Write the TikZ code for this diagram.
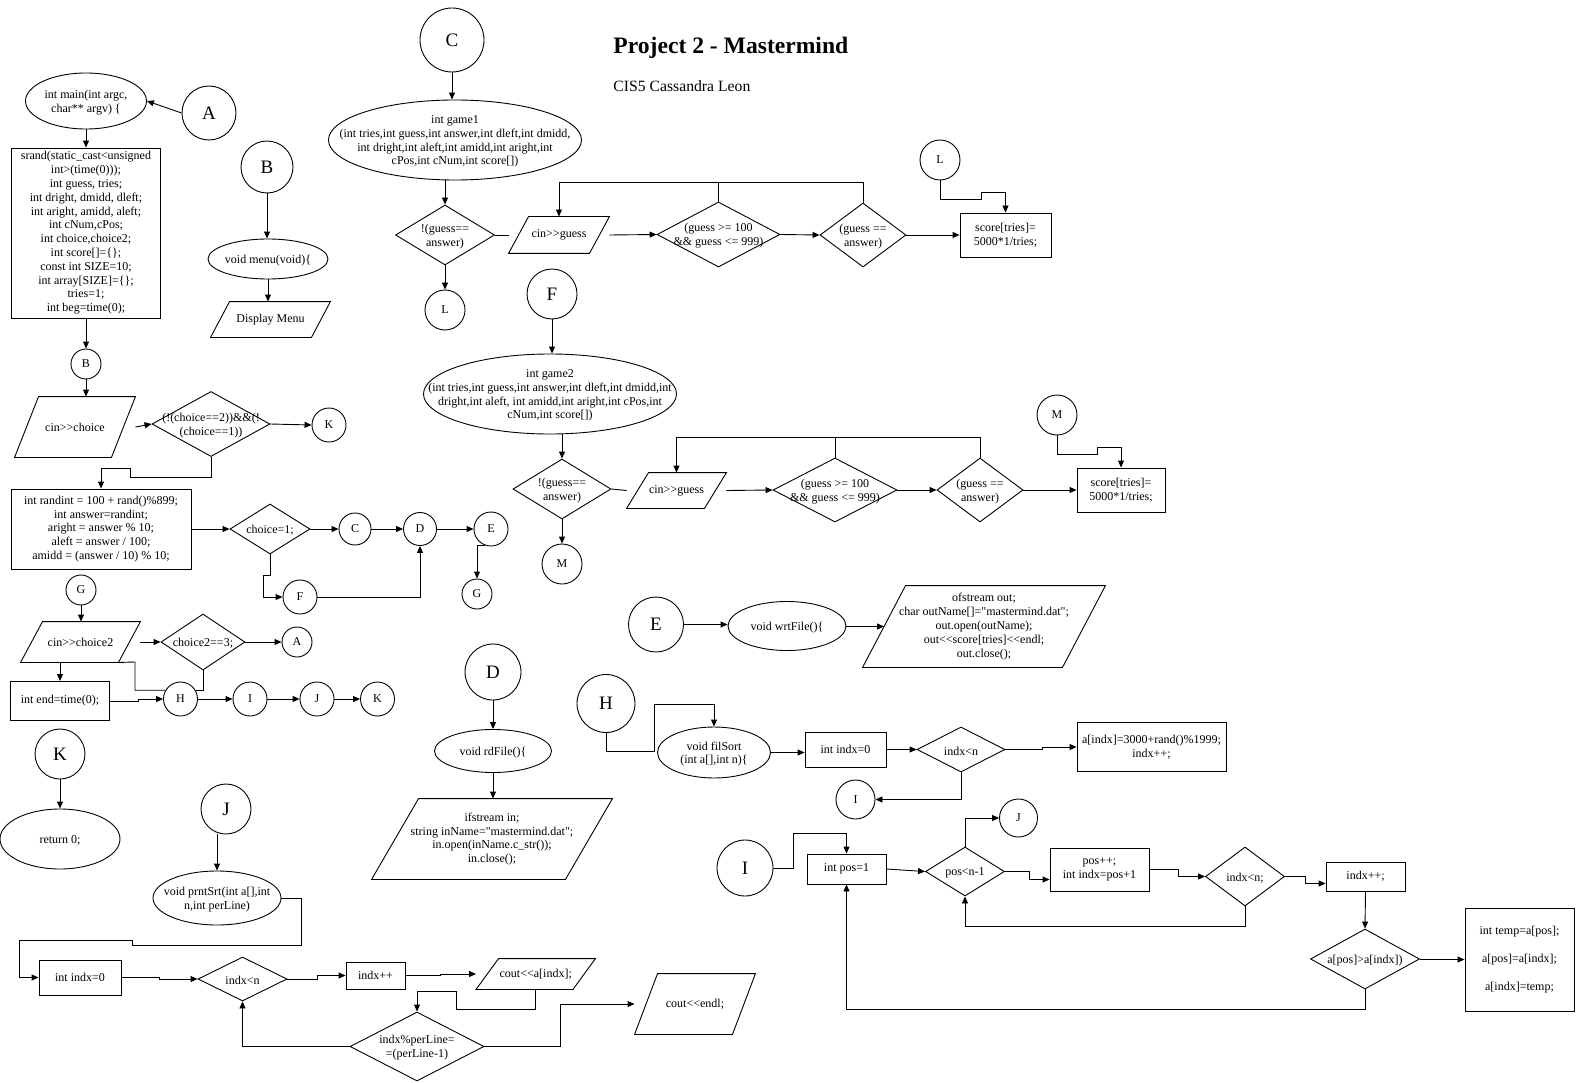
\documentclass[tikz,border=0pt]{standalone}
\usepackage{fontspec}
\setmainfont{Liberation Serif}[Ligatures=TeXOff]
\usetikzlibrary{shapes.geometric,arrows.meta}
\newcommand\fs{\fontsize{12}{13.8}\selectfont}
\newcommand\bigfs{\fontsize{19}{22}\selectfont}
\newcommand\pgram[2]{\draw ([xshift=#2pt]#1.north west) -- (#1.north east) -- ([xshift=-#2pt]#1.south east) -- (#1.south west) -- cycle;}
\begin{document}
\begin{tikzpicture}[x=1pt,y=-1pt, line width=0.9pt,
  every node/.append style={font=\fs},
  sz/.style 2 args={minimum width=#1pt, minimum height=#2pt},
  box/.style={rectangle, draw, inner sep=1pt, align=center},
  ell/.style={ellipse, draw, inner sep=0pt},
  dia/.style={diamond, draw, inner sep=0pt},
  para/.style={rectangle, inner sep=0pt, align=center},
  bc/.style={circle, draw, inner sep=0pt, minimum size=#1pt, font=\bigfs},
  sc/.style={circle, draw, inner sep=0pt, minimum size=#1pt},
  txt/.style={label={[align=center, yshift=-1.5pt]center:{#1}}},
  arr/.style={-{Triangle[length=7pt,width=6pt]}},
]
\fill[white] (0,0) rectangle (1576,1083);
\useasboundingbox (0,0) rectangle (1576,1083);

% title
\node[anchor=base west, font=\fontsize{23.6}{26}\selectfont\bfseries, inner sep=0pt] (title) at (613,54) {Project 2 - Mastermind};
\node[anchor=base west, font=\fontsize{15.7}{18}\selectfont, inner sep=0pt] (sub) at (613,92) {CIS5 Cassandra Leon};

% ---------- left column ----------
\node[ell, sz={121}{56}, txt={int main(int argc,\\char** argv) \{}] (mainE) at (86,101) {};
\node[bc=54] (A1) at (209,113) {A};
\node[box, sz={149}{170}] (srandB) at (86,233) {srand(static\_cast<unsigned\\int>(time(0)));\\int guess, tries;\\int dright, dmidd, dleft;\\int aright, amidd, aleft;\\int cNum,cPos;\\int choice,choice2;\\int score[]=\{\};\\const int SIZE=10;\\int array[SIZE]=\{\};\\tries=1;\\int beg=time(0);};
\node[sc=30] (B2) at (86,364) {B};
\node[para, sz={120}{60}] (cinC) at (75,427) {cin>>choice};
\pgram{cinC}{24}
\node[dia, sz={118}{65}, txt={(!(choice==2))\&\&(!\\(choice==1))}] (dK) at (211,424) {};
\node[sc=34] (K1) at (329,425) {K};
\node[box, sz={180}{80}] (randB) at (101,529) {int randint = 100 + rand()\%899;\\int answer=randint;\\aright = answer \% 10;\\aleft = answer / 100;\\amidd = (answer / 10) \% 10;};
\node[dia, sz={80}{50}, txt={choice=1;}] (dC1) at (270,529) {};
\node[sc=32] (C2) at (355,529) {C};
\node[sc=33] (D2) at (420,529) {D};
\node[sc=34] (E2) at (491,529) {E};
\node[sc=34] (F2) at (300,597) {F};
\node[sc=30] (G2) at (477,594) {G};
\node[sc=30] (G3) at (81,590) {G};
\node[para, sz={119}{40}] (cinC2) at (80.5,642) {cin>>choice2};
\pgram{cinC2}{22}
\node[dia, sz={84}{56}, txt={choice2==3;}] (dC2) at (203,642) {};
\node[sc=30] (A3) at (297,642) {A};
\node[box, sz={99}{39}] (endB) at (60,701) {int end=time(0);};
\node[sc=34] (H3) at (180.5,699) {H};
\node[sc=34] (I3) at (250,699) {I};
\node[sc=34] (J3) at (317,699) {J};
\node[sc=34] (K3) at (377.5,699) {K};
\node[bc=50] (K4) at (60,754) {K};
\node[ell, sz={120}{60}, txt={return 0;}] (ret0) at (60,839) {};

% ---------- B ----------
\node[bc=52] (B1) at (267,167) {B};
\node[ell, sz={120}{40}, txt={void menu(void)\{}] (menuE) at (268,259) {};
\node[para, sz={119}{35}] (dispP) at (270.5,319.5) {Display Menu};
\pgram{dispP}{19}

% ---------- game1 ----------
\node[bc=64] (C1) at (452,40) {C};
\node[ell, sz={253}{80}, txt={int game1\\(int tries,int guess,int answer,int dleft,int dmidd,\\int dright,int aleft,int amidd,int aright,int\\cPos,int cNum,int score[])}] (g1E) at (455,140) {};
\node[dia, sz={99}{60}, txt={!(guess==\\answer)}] (g1d1) at (445,235) {};
\node[sc=40] (L1) at (445,310) {L};
\node[para, sz={100}{36}] (g1cin) at (559,235) {cin>>guess};
\pgram{g1cin}{20}
\node[dia, sz={123}{65}, txt={(guess >= 100\\\&\& guess <= 999)}] (g1d2) at (718.5,234.5) {};
\node[dia, sz={86}{64}, txt={(guess ==\\answer)}] (g1d3) at (863,235) {};
\node[box, sz={91}{44}] (score1) at (1005.5,235) {score[tries]=\\5000*1/tries;};
\node[sc=40] (L2) at (940,160) {L};

% ---------- game2 ----------
\node[bc=50] (F1) at (552,294) {F};
\node[ell, sz={253}{80}, txt={int game2\\(int tries,int guess,int answer,int dleft,int dmidd,int\\dright,int aleft, int amidd,int aright,int cPos,int\\cNum,int score[])}] (g2E) at (550,394) {};
\node[dia, sz={98}{60}, txt={!(guess==\\answer)}] (g2d1) at (562,489) {};
\node[sc=40] (M2) at (562,564) {M};
\node[para, sz={99}{35}] (g2cin) at (676.5,490.5) {cin>>guess};
\pgram{g2cin}{22}
\node[dia, sz={124}{64}, txt={(guess >= 100\\\&\& guess <= 999)}] (g2d2) at (835,490) {};
\node[dia, sz={86}{64}, txt={(guess ==\\answer)}] (g2d3) at (980,490) {};
\node[box, sz={88}{44}] (score2) at (1121,490) {score[tries]=\\5000*1/tries;};
\node[sc=40] (M3) at (1057,415) {M};

% ---------- E ----------
\node[bc=55] (E3) at (656,624.5) {E};
\node[ell, sz={118}{49}, txt={void wrtFile()\{}] (wrtE) at (787,626) {};
\node[para, sz={242}{81}] (ofs) at (984,626.5) {ofstream out;\\char outName[]="mastermind.dat";\\out.open(outName);\\out<<score[tries]<<endl;\\out.close();};
\pgram{ofs}{43}

% ---------- D ----------
\node[bc=56] (D3) at (493,672) {D};
\node[ell, sz={117}{43}, txt={void rdFile()\{}] (rdE) at (493,751) {};
\node[para, sz={240}{80}] (ifs) at (492,839) {ifstream in;\\string inName="mastermind.dat";\\in.open(inName.c\_str());\\in.close();};
\pgram{ifs}{47}

% ---------- H ----------
\node[bc=58] (H4) at (606,703.5) {H};
\node[ell, sz={113}{51}, txt={void filSort\\(int a[],int n)\{}] (filE) at (714,752.5) {};
\node[box, sz={81}{35}] (idx0) at (845.5,749.5) {int indx=0};
\node[dia, sz={88}{45}, txt={indx<n}] (dN) at (961,749.5) {};
\node[box, sz={149}{49}] (aB) at (1151.5,747) {a[indx]=3000+rand()\%1999;\\indx++;};
\node[sc=39] (I5) at (855.5,799.5) {I};

% ---------- I ----------
\node[bc=56] (I6) at (745,868) {I};
\node[box, sz={79}{30}] (pos1) at (846.5,869) {int pos=1};
\node[dia, sz={79}{49}, txt={pos<n-1}] (pd) at (965,871.5) {};
\node[sc=38] (J5) at (1018.5,818) {J};
\node[box, sz={99}{43}] (pospp) at (1099.5,869.5) {pos++;\\int indx=pos+1};
\node[dia, sz={79}{59}, txt={indx<n;}] (dN2) at (1245,876.5) {};
\node[box, sz={79}{29}] (ipp) at (1365.5,876.5) {indx++;};
\node[dia, sz={109}{60}, txt={a[pos]>a[indx])}] (apos) at (1365,959) {};
\node[box, sz={109}{103}] (tmpB) at (1519.5,959.5) {int temp=a[pos];\\[14pt]a[pos]=a[indx];\\[14pt]a[indx]=temp;};

% ---------- J ----------
\node[bc=50] (J4) at (226,809) {J};
\node[ell, sz={128}{54}, txt={void prntSrt(int a[],int\\n,int perLine)}] (prntE) at (217,898) {};
\node[box, sz={82}{35}] (idx1) at (80,977.5) {int indx=0};
\node[dia, sz={89}{44}, txt={indx<n}] (dn1) at (242.5,979) {};
\node[box, sz={59}{27}] (ipp1) at (375.5,975.5) {indx++};
\node[para, sz={118.5}{30}] (coutA) at (535.75,974) {cout<<a[indx];};
\pgram{coutA}{22.5}
\node[dia, sz={134}{69}, txt={indx\%perLine=\\=(perLine-1)}] (dpl) at (417,1046.5) {};
\node[para, sz={120}{60}] (coutE) at (695,1004) {cout<<endl;};
\pgram{coutE}{23}

% ================= connectors =================
% left column
\draw[arr] (A1.west) -- (mainE.east);
\draw[arr] (mainE.south) -- (srandB.north);
\draw[arr] (srandB.south) -- (B2.north);
\draw[arr] (B2.south) -- (B2.south |- cinC.north);
\draw[arr] (cinC.east) -- (dK.west);
\draw[arr] (dK.east) -- (K1.west);
\draw[arr] (dK.south) |- (130,477) |- ([yshift=20pt]randB.north) -- (randB.north);
\draw[arr] (randB.east) -- (dC1.west);
\draw[arr] (dC1.east) -- (C2.west);
\draw[arr] (C2.east) -- (D2.west);
\draw[arr] (D2.east) -- (E2.west);
\draw[arr] (dC1.south) |- (263,575) |- (F2.west);
\draw[arr] (F2.east) -| (D2.south);
\draw[arr] (E2.250) -| (G2.north);
\draw[arr] (G3.south) -- (G3.south |- cinC2.north);
\draw[arr] (cinC2.east) -- (dC2.west);
\draw[arr] (dC2.east) -- (A3.west);
\draw[arr] (cinC2.south -| endB.north) -- (endB.north);
\draw ([xshift=-22pt]cinC2.south east) -- (135,662) |- (H3.150);
\draw (dC2.south) |- (H3.30);
\draw[arr] (endB.east) -- ++(28,0) |- (H3.west);
\draw[arr] (H3.east) -- (I3.west);
\draw[arr] (I3.east) -- (J3.west);
\draw[arr] (J3.east) -- (K3.west);
\draw[arr] (K4.south) -- (ret0.north);

% B
\draw[arr] (B1.south) -- (B1.south |- menuE.north);
\draw[arr] (menuE.south) -- (menuE.south |- dispP.north);

% game1
\draw[arr] (C1.south) -- (C1.south |- g1E.north);
\draw[arr] (g1d1.north |- g1E.south) -- (g1d1.north);
\draw[arr] (g1d1.south) -- (L1.north);
\draw (g1d1.east) -- (g1cin.west);
\draw[arr] (g1cin.east) -- (g1d2.west);
\draw[arr] (g1d2.east) -- (g1d3.west);
\draw[arr] (g1d3.east) -- (score1.west);
\draw[arr] (L2.south) |- (981,199) |- ([yshift=20pt]score1.north) -- (score1.north);
\draw[arr] (g1d3.north) |- ([yshift=34pt]g1cin.north) -- (g1cin.north);
\draw (g1d2.north) -- ([yshift=34pt]g1cin.north -| g1d2.north);
\draw[line width=1.8pt] ([yshift=34pt]g1cin.north) -- ([yshift=34pt]g1cin.north -| g1d2.north);

% game2
\draw[arr] (F1.south) -- (F1.south |- g2E.north);
\draw[arr] (g2d1.north |- g2E.south) -- (g2d1.north);
\draw[arr] (g2d1.south) -- (M2.north);
\draw (g2d1.east) -- (g2cin.west);
\draw[arr] (g2cin.east) -- (g2d2.west);
\draw[arr] (g2d2.east) -- (g2d3.west);
\draw[arr] (g2d3.east) -- (score2.west);
\draw[arr] (M3.south) |- (1097,454) |- ([yshift=20pt]score2.north) -- (score2.north);
\draw[arr] (g2d3.north) |- ([yshift=35pt]g2cin.north) -- (g2cin.north);
\draw (g2d2.north) -- ([yshift=35pt]g2cin.north -| g2d2.north);
\draw[line width=1.8pt] ([yshift=35pt]g2cin.north) -- ([yshift=35pt]g2cin.north -| g2d2.north);

% E
\draw[arr] (E3.east) -- (E3.east -| wrtE.west);
\draw[arr] (wrtE.east) -- ++(19,0) |- ([xshift=21.5pt]ofs.west);

% D
\draw[arr] (D3.south) -- (D3.south |- rdE.north);
\draw[arr] (rdE.south) -- (rdE.south |- ifs.north);

% H
\draw[arr] (H4.south) |- (654,751) |- ([yshift=22pt]filE.north) -- (filE.north);
\draw[arr] (filE.east) -- (filE.east -| idx0.west);
\draw[arr] (idx0.east) -- (dN.west);
\draw[arr] (dN.east) -- ++(37,0) |- (aB.west);
\draw[arr] (dN.south) |- (I5.east);

% I
\draw[arr] (I6.east) -- ++(20,0) |- ([yshift=20pt]pos1.north) -- (pos1.north);
\draw[arr] (pos1.east) -- (pd.west);
\draw[arr] (pd.north) |- (J5.west);
\draw[arr] (pd.east) -- ++(24,0) |- ([yshift=-10pt]pospp.west);
\draw[arr] (pospp.east) -- ++(29,0) |- (dN2.west);
\draw[arr] (dN2.south) |- ([yshift=-30pt]pd.south) -- (pd.south);
\draw[arr] (dN2.east) -- ++(20,0) |- ([yshift=-7pt]ipp.west);
\draw[arr] (ipp.south) -- (apos.north);
\draw[arr] (apos.east) -- ++(23,0) |- (tmpB.west);
\draw[arr] (apos.south) |- ([yshift=-125pt]pos1.south) -- (pos1.south);

% J
\draw[arr] (J4.south -| prntE.north) -- (prntE.north);
\draw[arr] (prntE.east) -| (301,945) -- (132,945) -- (132,940) -- (19,940) |- (idx1.west);
\draw[arr] (idx1.east) -- ++(38,0) |- (dn1.west);
\draw[arr] (dn1.east) -- ++(30,0) |- (ipp1.west);
\draw[arr] (ipp1.east) -- ++(35,0) |- (coutA.west);
\draw[arr] (coutA.south) |- (456,1009) |- ([yshift=20pt]dpl.north) -- (dpl.north);
\draw[arr] (dpl.west) -| (dn1.south);
\draw[arr] (dpl.east) -| (560,1004) -- (coutE.west);
\end{tikzpicture}
\end{document}
